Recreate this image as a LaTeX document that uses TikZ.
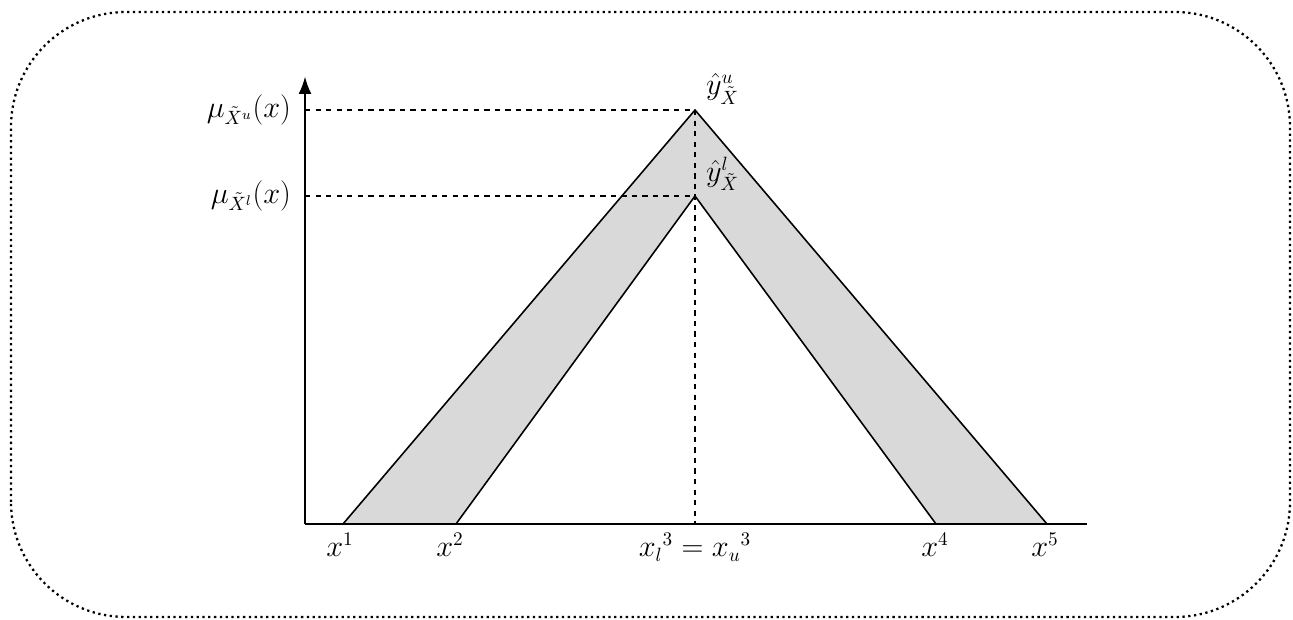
\documentclass[tikz,border=0pt]{standalone}
\usetikzlibrary{arrows.meta}
\begin{document}
\begin{tikzpicture}[line width=.8pt,font=\fontsize{16}{19}\selectfont,
  guide/.style={dashed,line width=.6pt},
  band/.style={fill=black!15,line width=.9pt}]
\useasboundingbox (0,0) rectangle (25.86,12.38);
\draw[dotted,line width=1.3pt,rounded corners=2.3cm] (.22,.04) rectangle (25.8,12.14);
% axes
\coordinate (O) at (6.1,1.9); \coordinate (ytop) at (6.1,10.85); \coordinate (xend) at (21.74,1.9);
\coordinate (x1) at (6.86,1.9); \coordinate (x2) at (9.12,1.9); \coordinate (x3) at (13.9,1.9);
\coordinate (x4) at (18.72,1.9); \coordinate (x5) at (20.94,1.9);
\coordinate (pu) at (13.9,10.18); \coordinate (pl) at (13.9,8.46);
\coordinate (mu) at (6.1,10.18); \coordinate (ml) at (6.1,8.46);
\fill[black!15] (x1)--(pu)--(x5)--(x4)--(pl)--(x2)--cycle;
\draw[line width=.9pt] (x1)--(pu)--(x5) (x2)--(pl)--(x4);
\draw[guide] (mu)--(pu) (ml)--(pl) (pu)--(x3);
\draw[line width=1.1pt,-{Latex[length=3.5mm,width=2.6mm]}] (O)--(ytop);
\draw[line width=1.1pt] (O)--(xend);
\node[left] (lu) at (5.95,10.18) {$\mu_{\tilde{X}^u}(x)$};
\node[left] (ll) at (5.95,8.46) {$\mu_{\tilde{X}^l}(x)$};
\node (yu) at (14.45,10.6) {$\hat{y}^u_{\tilde{X}}$};
\node (yl) at (14.45,8.9) {$\hat{y}^l_{\tilde{X}}$};
\node[below] (t1) at (6.8,1.85) {$x^1$};
\node[below] (t2) at (9.0,1.85) {$x^2$};
\node[below] (t3) at (13.9,1.85) {$x_l{}^3=x_u{}^3$};
\node[below] (t4) at (18.7,1.85) {$x^4$};
\node[below] (t5) at (20.9,1.85) {$x^5$};
\end{tikzpicture}
\end{document}
